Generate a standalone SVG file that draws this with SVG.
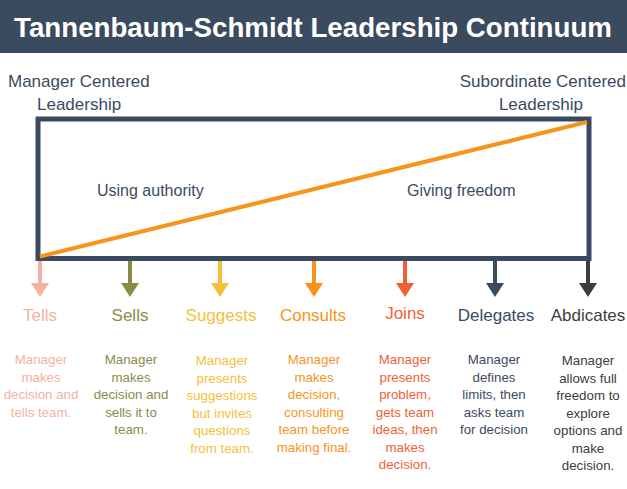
<svg xmlns="http://www.w3.org/2000/svg" width="627" height="489" viewBox="0 0 627 489">
<style>
text{font-family:"Liberation Sans",Arial,sans-serif}
.title{font-size:27.7px;font-weight:bold;fill:#ffffff;text-anchor:middle}
.side{font-size:17px;fill:#3a4b5f}
.mid{font-size:16px;fill:#3a4b5f}
.lbl{font-size:17px;text-anchor:middle}
.desc{font-size:13.3px;text-anchor:middle}
.shaft{stroke-width:4;fill:none}
</style>
<rect x="0" y="0" width="627" height="53" fill="#3a4b5f"/>
<text class="title" x="313" y="37">Tannenbaum-Schmidt Leadership Continuum</text>
<g id="left-label">
<text class="side" x="8" y="87">Manager Centered</text>
<text class="side" x="37" y="110">Leadership</text>
</g>
<g id="right-label">
<text class="side" x="626" y="87" text-anchor="end">Subordinate Centered</text>
<text class="side" x="583" y="110" text-anchor="end">Leadership</text>
</g>
<g id="continuum">
<rect x="38" y="119" width="551" height="139.5" fill="none" stroke="#3a4b5f" stroke-width="5"/>
<line x1="40" y1="256.5" x2="587" y2="122" stroke="#f7941d" stroke-width="4"/>
<text class="mid" x="97" y="196">Using authority</text>
<text class="mid" x="407" y="196">Giving freedom</text>
</g>
<g id="connectors">
<g stroke="#f4b2a0" fill="#f4b2a0"><line class="shaft" x1="40" y1="261" x2="40" y2="285"/><polygon points="31,283 49,283 40,297" stroke="none"/></g>
<g stroke="#8b8b47" fill="#8b8b47"><line class="shaft" x1="130" y1="261" x2="130" y2="285"/><polygon points="121,283 139,283 130,297" stroke="none"/></g>
<g stroke="#f5bf3a" fill="#f5bf3a"><line class="shaft" x1="220" y1="261" x2="220" y2="285"/><polygon points="211,283 229,283 220,297" stroke="none"/></g>
<g stroke="#f7941d" fill="#f7941d"><line class="shaft" x1="314" y1="261" x2="314" y2="285"/><polygon points="305,283 323,283 314,297" stroke="none"/></g>
<g stroke="#ef6236" fill="#ef6236"><line class="shaft" x1="405" y1="261" x2="405" y2="285"/><polygon points="396,283 414,283 405,297" stroke="none"/></g>
<g stroke="#3a4b5f" fill="#3a4b5f"><line class="shaft" x1="495" y1="261" x2="495" y2="285"/><polygon points="486,283 504,283 495,297" stroke="none"/></g>
<g stroke="#3d3d3d" fill="#3d3d3d"><line class="shaft" x1="588" y1="261" x2="588" y2="285"/><polygon points="579,283 597,283 588,297" stroke="none"/></g>
</g>
<g id="tells" fill="#f4b2a0">
<text class="lbl" x="40" y="321">Tells</text>
<text class="desc" x="41" y="364">Manager</text>
<text class="desc" x="41" y="381.5">makes</text>
<text class="desc" x="41" y="399">decision and</text>
<text class="desc" x="41" y="416.5">tells team.</text>
</g>
<g id="sells" fill="#8b8b47">
<text class="lbl" x="130" y="321">Sells</text>
<text class="desc" x="131" y="364">Manager</text>
<text class="desc" x="131" y="381.5">makes</text>
<text class="desc" x="131" y="399">decision and</text>
<text class="desc" x="131" y="416.5">sells it to</text>
<text class="desc" x="131" y="434">team.</text>
</g>
<g id="suggests" fill="#f5bf3a">
<text class="lbl" x="221" y="321">Suggests</text>
<text class="desc" x="222" y="365">Manager</text>
<text class="desc" x="222" y="382.5">presents</text>
<text class="desc" x="222" y="400">suggestions</text>
<text class="desc" x="222" y="417.5">but invites</text>
<text class="desc" x="222" y="435">questions</text>
<text class="desc" x="222" y="452.5">from team.</text>
</g>
<g id="consults" fill="#f7941d">
<text class="lbl" x="313" y="321">Consults</text>
<text class="desc" x="314" y="364">Manager</text>
<text class="desc" x="314" y="381.5">makes</text>
<text class="desc" x="314" y="399">decision,</text>
<text class="desc" x="314" y="416.5">consulting</text>
<text class="desc" x="314" y="434">team before</text>
<text class="desc" x="314" y="451.5">making final.</text>
</g>
<g id="joins" fill="#ef6236">
<text class="lbl" x="405" y="319">Joins</text>
<text class="desc" x="405" y="364">Manager</text>
<text class="desc" x="405" y="381.5">presents</text>
<text class="desc" x="405" y="399">problem,</text>
<text class="desc" x="405" y="416.5">gets team</text>
<text class="desc" x="405" y="434">ideas, then</text>
<text class="desc" x="405" y="451.5">makes</text>
<text class="desc" x="405" y="469">decision.</text>
</g>
<g id="delegates" fill="#3a4b5f">
<text class="lbl" x="496" y="321">Delegates</text>
<text class="desc" x="494" y="364">Manager</text>
<text class="desc" x="494" y="381.5">defines</text>
<text class="desc" x="494" y="399">limits, then</text>
<text class="desc" x="494" y="416.5">asks team</text>
<text class="desc" x="494" y="434">for decision</text>
</g>
<g id="abdicates" fill="#3d3d3d">
<text class="lbl" x="588" y="321">Abdicates</text>
<text class="desc" x="588" y="365">Manager</text>
<text class="desc" x="588" y="382.5">allows full</text>
<text class="desc" x="588" y="400">freedom to</text>
<text class="desc" x="588" y="417.5">explore</text>
<text class="desc" x="588" y="435">options and</text>
<text class="desc" x="588" y="452.5">make</text>
<text class="desc" x="588" y="470">decision.</text>
</g>
</svg>
